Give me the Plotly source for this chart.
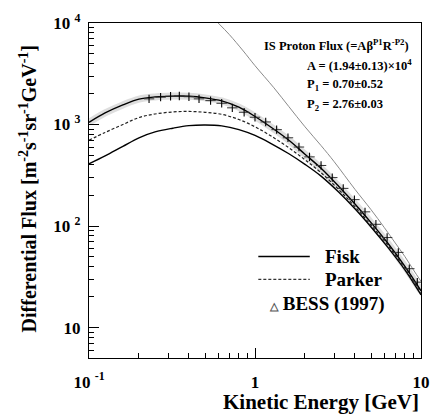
import plotly.graph_objects as go

# ---- data ----
curve_e = [0.1, 0.125, 0.16, 0.2, 0.25, 0.32, 0.4, 0.5, 0.63, 0.8, 1.0, 1.25, 1.6, 2.0, 2.5, 3.2, 4.0, 5.0, 6.3, 8.0, 10.0]
fisk_fit = [1050, 1300, 1560, 1780, 1870, 1905, 1900, 1830, 1710, 1480, 1200, 940, 700, 510, 370, 245, 165, 108, 68, 40, 23]
parker = [700, 835, 1000, 1170, 1270, 1330, 1345, 1320, 1260, 1120, 950, 770, 590, 450, 335, 228, 155, 102, 65, 38, 22]
fisk_low = [410, 490, 610, 740, 845, 920, 975, 990, 970, 890, 780, 650, 515, 405, 310, 215, 148, 98, 62, 37, 21]

lis_e = [0.6, 0.7, 0.85, 1.0, 1.3, 1.6, 2.0, 2.5, 3.0, 4.0, 5.0, 6.0, 7.0, 8.0, 9.0, 10.0]
lis_flux = [10000, 7700, 5300, 3800, 2300, 1500, 950, 620, 430, 230, 145, 97, 68, 50, 37, 28.5]

bess_e = [0.23, 0.27, 0.31, 0.35, 0.40, 0.46, 0.54, 0.63, 0.73, 0.86, 1.0, 1.16, 1.35, 1.58,
          1.84, 2.13, 2.5, 2.92, 3.4, 3.97, 4.6, 5.35, 6.25, 7.3, 8.5, 9.5]
bess_flux = [1790, 1860, 1900, 1910, 1880, 1790, 1720, 1620, 1460, 1320, 1180, 1060, 890, 740,
             600, 480, 395, 300, 235, 182, 138, 104, 77, 55, 38, 28]

x_tickvals = [0.1, 1, 10]
x_ticktext = ["10 <sup>-1</sup>", "1", "10"]
y_tickvals = [10, 100, 1000, 10000]
y_ticktext = ["10", "10 <sup>2</sup>", "10 <sup>3</sup>", "10 <sup>4</sup>"]

SERIF = "Liberation Serif"

fig = go.Figure()

# gray band under the fitted curve
fig.add_trace(go.Scatter(x=curve_e, y=fisk_fit, mode="lines", line_shape="spline",
                         line=dict(color="rgba(0,0,0,0.13)", width=7), showlegend=False, hoverinfo="skip"))
# IS spectrum
fig.add_trace(go.Scatter(x=lis_e, y=lis_flux, mode="lines", line_shape="spline",
                         line=dict(color="#8a8a8a", width=1), showlegend=False))
fig.add_trace(go.Scatter(x=curve_e, y=fisk_low, mode="lines", line_shape="spline",
                         line=dict(color="black", width=1.4), showlegend=False))
fig.add_trace(go.Scatter(x=curve_e, y=parker, mode="lines", line_shape="spline",
                         line=dict(color="#222", width=1.2, dash="3px,2px"), showlegend=False))
fig.add_trace(go.Scatter(x=curve_e, y=fisk_fit, mode="lines", line_shape="spline",
                         line=dict(color="black", width=1.4), showlegend=False))
fig.add_trace(go.Scatter(x=bess_e, y=bess_flux, mode="markers",
                         marker=dict(symbol="line-ns-open", size=6, color="black",
                                     line=dict(width=1.1, color="black")),
                         error_x=dict(type="percent", value=7.5, valueminus=7.0, width=0,
                                      thickness=1.0, color="#333"),
                         showlegend=False))

fig.update_layout(
    width=441, height=415,
    margin=dict(l=89, r=11, t=20, b=57),
    paper_bgcolor="white", plot_bgcolor="white",
    font=dict(family=SERIF, color="black"),
)

fig.update_xaxes(type="log", range=[-1, 1], showgrid=False, zeroline=False,
                 showline=True, linecolor="black", linewidth=1.2, mirror=True,
                 ticks="inside", ticklen=10, tickwidth=1, tickcolor="black",
                 tickvals=x_tickvals, ticktext=x_ticktext,
                 tickfont=dict(family=SERIF, size=17, weight="bold", color="black"),
                 ticklabelstandoff=8,
                 minor=dict(ticks="inside", ticklen=5, tickwidth=1, tickcolor="black",
                            tickvals=[0.2, 0.3, 0.4, 0.5, 0.6, 0.7, 0.8, 0.9,
                                      2, 3, 4, 5, 6, 7, 8, 9], showgrid=False))
fig.update_yaxes(type="log", range=[0.7, 4], showgrid=False, zeroline=False,
                 showline=True, linecolor="black", linewidth=1.2, mirror=True,
                 ticks="inside", ticklen=10, tickwidth=1, tickcolor="black",
                 tickvals=y_tickvals, ticktext=y_ticktext,
                 tickfont=dict(family=SERIF, size=17, weight="bold", color="black"),
                 ticklabelstandoff=4,
                 minor=dict(ticks="inside", ticklen=5, tickwidth=1, tickcolor="black",
                            tickvals=[6, 7, 8, 9, 20, 30, 40, 50, 60, 70, 80, 90,
                                      200, 300, 400, 500, 600, 700, 800, 900,
                                      2000, 3000, 4000, 5000, 6000, 7000, 8000, 9000],
                            showgrid=False))

ann_font = dict(family=SERIF, size=12.5, color="black", weight="bold")
annotations = [
    dict(text="IS Proton Flux (=Aβ<sup>P1</sup>R<sup>-P2</sup>)", x=0.97, y=0.935,
         xanchor="right", yanchor="middle", font=ann_font),
    dict(text="A = (1.94±0.13)×10<sup>4</sup>", x=0.65, y=0.875, xanchor="left", yanchor="middle", font=ann_font),
    dict(text="P<sub>1</sub> = 0.70±0.52", x=0.65, y=0.815, xanchor="left", yanchor="middle", font=ann_font),
    dict(text="P<sub>2</sub> = 2.76±0.03", x=0.65, y=0.755, xanchor="left", yanchor="middle", font=ann_font),
    # legend
    dict(text="Fisk", x=0.705, y=0.303, xanchor="left", yanchor="middle",
         font=dict(family=SERIF, size=19, weight="bold", color="black")),
    dict(text="Parker", x=0.705, y=0.235, xanchor="left", yanchor="middle",
         font=dict(family=SERIF, size=19, weight="bold", color="black")),
    dict(text="<span style='font-size:11px;color:#555'>△</span> BESS (1997)", x=0.535, y=0.16,
         xanchor="left", yanchor="middle",
         font=dict(family=SERIF, size=19, weight="bold", color="black")),
    # axis titles
    dict(text="Kinetic Energy [GeV]", x=1.0, y=-0.132, xanchor="right", yanchor="middle",
         font=dict(family=SERIF, size=21, weight="bold", color="black")),
    dict(text="Differential Flux [m<sup>-2</sup>s<sup>-1</sup>sr<sup>-1</sup>GeV<sup>-1</sup>]",
         x=-0.185, y=0.505, textangle=-90, xanchor="center", yanchor="middle",
         font=dict(family=SERIF, size=20, weight="bold", color="black")),
]
for a in annotations:
    a.update(xref="paper", yref="paper", showarrow=False)
fig.update_layout(annotations=annotations)

# legend line samples (decorations in paper coordinates)
fig.add_shape(type="line", xref="paper", yref="paper", x0=0.51, x1=0.665, y0=0.303, y1=0.303,
              line=dict(color="black", width=1.3))
fig.add_shape(type="line", xref="paper", yref="paper", x0=0.51, x1=0.665, y0=0.235, y1=0.235,
              line=dict(color="#333", width=1.2, dash="3px,2px"))

fig.write_html("out.html")
